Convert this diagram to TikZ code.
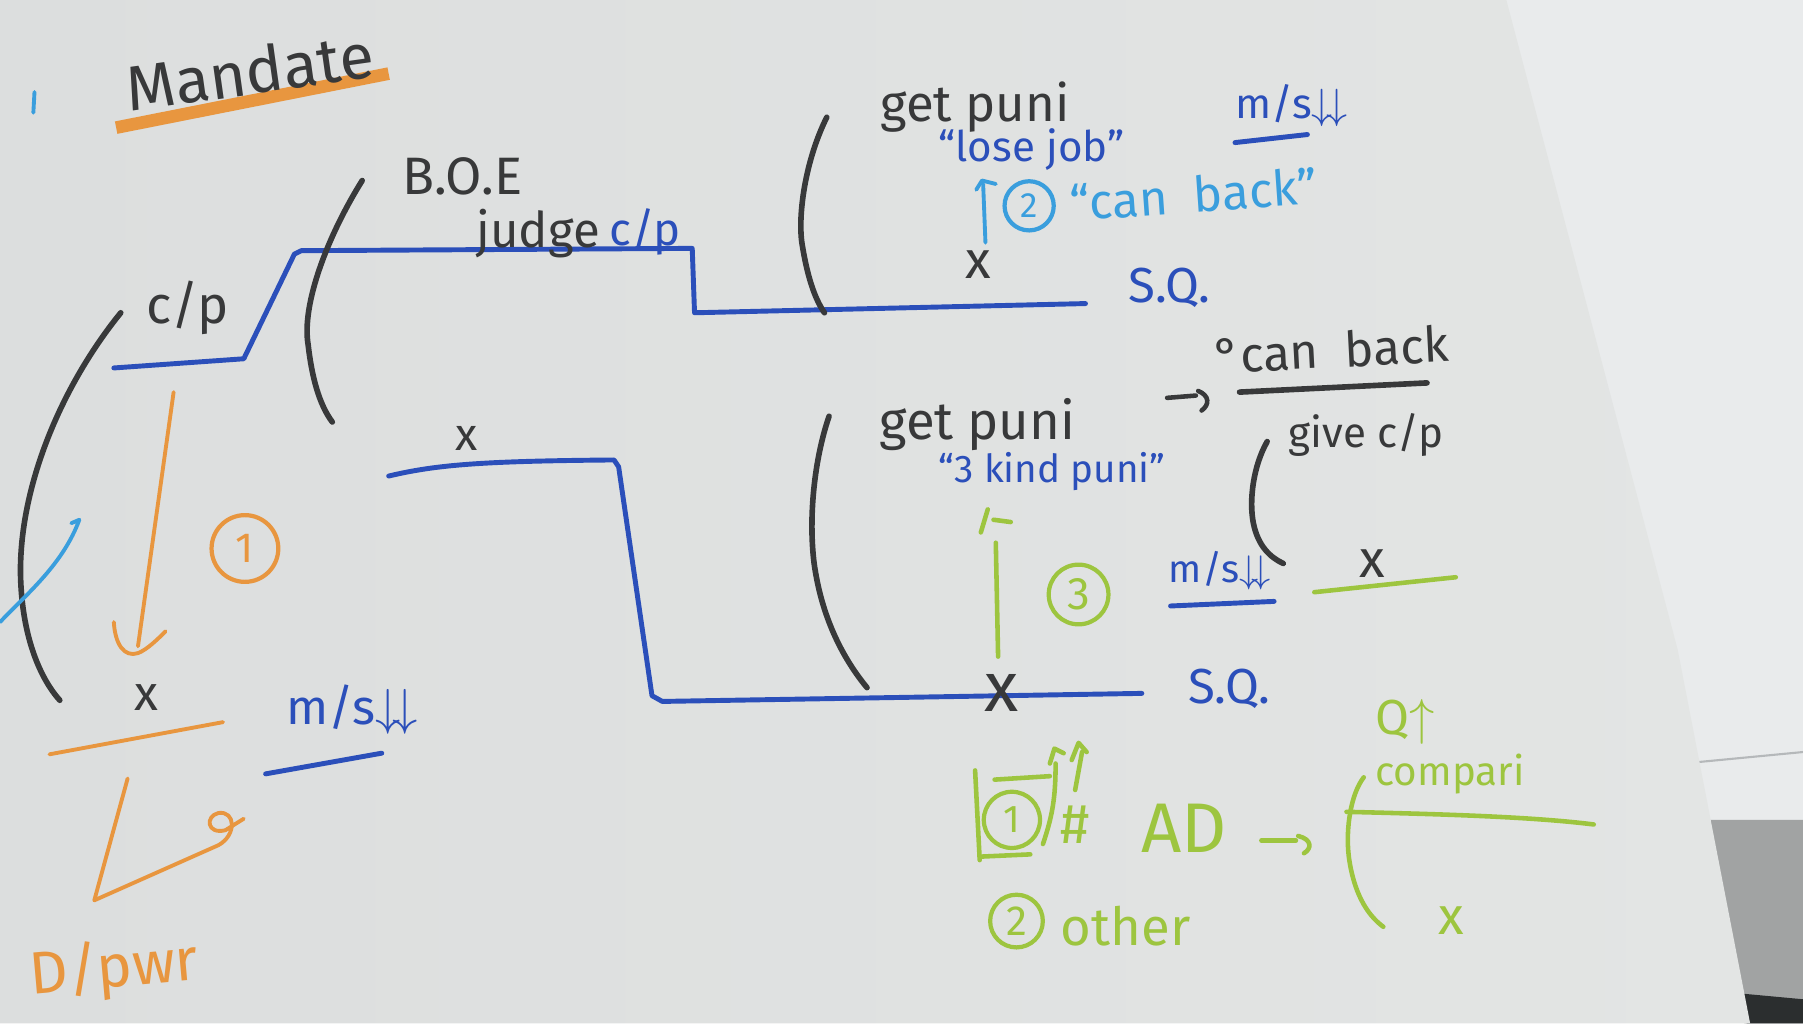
\documentclass[tikz,border=0pt]{standalone}
\usepackage{fontspec}
\setmainfont{Fira Sans}
\usetikzlibrary{arrows.meta}
\definecolor{paper}{HTML}{E3E5E4}
\definecolor{paperleft}{HTML}{DCDEDE}
\definecolor{backsheet}{HTML}{E9EBEC}
\definecolor{sheetedge}{HTML}{B5B8BA}
\definecolor{desk}{HTML}{A1A3A3}
\definecolor{corner}{HTML}{2B2E2F}
\definecolor{inkblack}{HTML}{38393A}
\definecolor{inkblue}{HTML}{2B4FBA}
\definecolor{inksky}{HTML}{3A9EDD}
\definecolor{inkorange}{HTML}{E8963F}
\definecolor{inkgreen}{HTML}{9DC53F}

\begin{document}
\begin{tikzpicture}[x=0.0115cm,y=-0.0115cm,
    inkpen/.style={draw=inkblack,line width=1.6pt,line cap=round,line join=round},
    bluepen/.style={draw=inkblue,line width=1.4pt,line cap=round,line join=round},
    skypen/.style={draw=inksky,line width=1.1pt,line cap=round,line join=round},
    orangepen/.style={draw=inkorange,line width=1.1pt,line cap=round,line join=round},
    greenpen/.style={draw=inkgreen,line width=1.3pt,line cap=round,line join=round},
    hand/.style={inner sep=0pt,font=\fontsize{#1}{#1}\selectfont},
    ring/.style={circle,draw,line width=1.2pt,inner sep=0pt,minimum size=#1}]
  \useasboundingbox (0,0) rectangle (1568,890);
  \fill[backsheet] (0,0) rectangle (1568,890);
  \fill[desk] (1485,713) -- (1568,713) -- (1568,890) -- (1517,890) -- cycle;
  \fill[corner] (1514,864) -- (1568,869) -- (1568,890) -- (1519,890) -- cycle;
  \draw[sheetedge,line width=0.6pt] (1474,663) -- (1568,654);
  \shade[left color=paperleft,right color=paper] (0,0) -- (1310,0) -- (1459,565) -- (1522,890) -- (0,890) -- cycle;

  % title
  \draw[inkorange,line width=3.6pt] (101,111) -- (338,64);
  \node[hand=18,inkblack,rotate=8] (title) at (217,62) {Mandate};
  \draw[skypen] (30,80) -- (29,98);

  % tree
  \draw[bluepen] (99,320) -- (212,312) -- (256,221) -- (262,218) -- (602,216) -- (604,272) -- (944,264);
  \draw[bluepen] (338,414) .. controls (380,404) and (420,401) .. (534,400) -- (538,406) -- (567,605) -- (576,610) -- (993,603);
  \draw[inkpen] (105,272) .. controls (50,340) and (15,430) .. (18,505) .. controls (20,555) and (35,590) .. (52,609);
  \draw[inkpen] (315,157) .. controls (285,205) and (262,265) .. (268,300) .. controls (272,335) and (280,355) .. (289,367);
  \draw[inkpen] (719,102) .. controls (700,140) and (693,190) .. (698,215) .. controls (703,245) and (710,262) .. (717,272);
  \draw[inkpen] (721,362) .. controls (708,400) and (703,450) .. (708,490) .. controls (715,540) and (735,575) .. (754,598);
  \draw[inkpen] (1102,384) .. controls (1090,405) and (1086,435) .. (1090,455) .. controls (1094,475) and (1105,485) .. (1116,490);
  \draw[skypen] (0,541) .. controls (25,515) and (55,490) .. (69,452) -- (62,455);

  \node[hand=15,inkblack] (cpL) at (163,268) {c/p};
  \node[hand=15,inkblack] (boe) at (402,153) {B.O.E};
  \node[hand=14,inkblack] (judge) at (468,203) {judge};
  \node[hand=13,inkblue] (cpB) at (561,202) {c/p};

  % upper branch
  \node[hand=14.5,inkblack] (getpuniA) at (848,93) {get puni};
  \node[hand=12,inkblue] (losejob) at (897,130) {“lose job”};
  \node[hand=15,inkblack] (xA) at (851,230) {x};
  \coordinate (skytail) at (857,211);
  \coordinate (skyhead) at (855,160);
  \draw[skypen] (skytail) -- (skyhead);
  \draw[skypen] (849,165) -- (854,157) -- (866,160);
  \node[ring=14pt,inksky,hand=10] (ctwo) at (895,179) {2};
  \node[hand=14,inksky,rotate=4] (canbackA) at (1038,169) {“can\ \ back”};
  \node[hand=14,inkblue] (sqA) at (1017,250) {S.Q.};
  \node[hand=12,inkblue] (msA) at (1123,92) {m/s$\downarrow\!\downarrow$};
  \draw[bluepen] (1074,124) -- (1137,117);

  % lower branch
  \node[hand=13,inkblack] (xB) at (406,381) {x};
  \node[hand=15,inkblack] (getpuniB) at (850,369) {get puni};
  \node[hand=11,inkblue] (threekind) at (915,410) {“3 kind puni”};
  \coordinate (greentail) at (868,571);
  \coordinate (greenhead) at (866,472);
  \draw[greenpen] (greentail) -- (greenhead);
  \draw[greenpen] (853,463) -- (859,443);
  \draw[greenpen] (864,452) -- (879,454);
  \node[ring=17pt,inkgreen,hand=13] (cthree) at (938,517) {3};
  \node[hand=20,inkblack] (xC) at (871,603) {x};
  \node[hand=14,inkblue] (sqB) at (1069,599) {S.Q.};
  \draw[inkpen,line width=1.3pt] (1015,346) -- (1040,344);
  \draw[inkpen,line width=1.3pt] (1042,340) .. controls (1052,344) and (1052,352) .. (1045,357);
  \node[hand=14,inkblack,rotate=3] (canbackB) at (1158,304) {°can\ \ back};
  \draw[inkpen] (1078,341) -- (1241,333);
  \node[hand=12,inkblack] (givecp) at (1188,378) {give c/p};
  \node[hand=11,inkblue] (msB) at (1061,496) {m/s$\downarrow\!\downarrow$};
  \draw[bluepen] (1018,527) -- (1108,523);
  \draw[greenpen] (1143,515) -- (1266,502);
  \node[hand=15,inkblack] (xD) at (1193,490) {x};

  % left outcome
  \coordinate (orangetail) at (151,341);
  \coordinate (orangehead) at (120,562);
  \draw[orangepen] (orangetail) -- (orangehead);
  \draw[orangepen] (99,541) .. controls (100,560) and (108,572) .. (120,568) .. controls (128,565) and (138,555) .. (144,549);
  \node[ring=19pt,inkorange,hand=12] (cone) at (213,477) {1};
  \node[hand=14,inkblack] (xE) at (127,607) {x};
  \draw[orangepen] (43,656) -- (194,628);
  \node[hand=14,inkblue] (msC) at (306,617) {m/s$\downarrow\!\downarrow$};
  \draw[bluepen] (231,673) -- (332,655);
  \draw[orangepen] (111,677) -- (82,783) -- (190,735) .. controls (206,726) and (205,705) .. (190,707) .. controls (178,710) and (180,726) .. (196,722) -- (212,712);
  \node[hand=17,inkorange,rotate=5] (dpwr) at (99,843) {D/pwr};

  % green notes
  \draw[greenpen] (848,670) -- (852,748);
  \draw[greenpen] (852,745) -- (896,743);
  \draw[greenpen] (865,678) -- (913,675);
  \draw[greenpen] (907,734) .. controls (915,710) and (918,695) .. (918,664);
  \draw[greenpen] (913,664) -- (917,651) -- (925,655);
  \draw[greenpen] (935,687) -- (941,654);
  \draw[greenpen] (932,661) -- (938,646) -- (945,654);
  \node[ring=16pt,inkgreen,hand=11] (gone) at (880,713) {1};
  \node[hand=16,inkgreen] (hash) at (935,717) {\#};
  \node[hand=20,inkgreen] (ad) at (1030,720) {AD};
  \draw[greenpen] (1097,731) -- (1127,731);
  \draw[greenpen] (1129,727) .. controls (1141,730) and (1141,738) .. (1134,742);
  \node[ring=15pt,inkgreen,hand=12] (gtwo) at (884,801) {2};
  \node[hand=15,inkgreen] (other) at (979,805) {other};
  \draw[greenpen] (1186,676) .. controls (1175,690) and (1170,720) .. (1173,745) .. controls (1177,775) and (1188,795) .. (1203,806);
  \draw[greenpen] (1171,706) .. controls (1250,708) and (1330,710) .. (1386,717);
  \node[hand=14,inkgreen] (qup) at (1222,628) {Q$\uparrow$};
  \node[hand=11.5,inkgreen] (compari) at (1261,673) {compari};
  \node[hand=15,inkgreen] (xF) at (1262,801) {x};
\end{tikzpicture}
\end{document}
